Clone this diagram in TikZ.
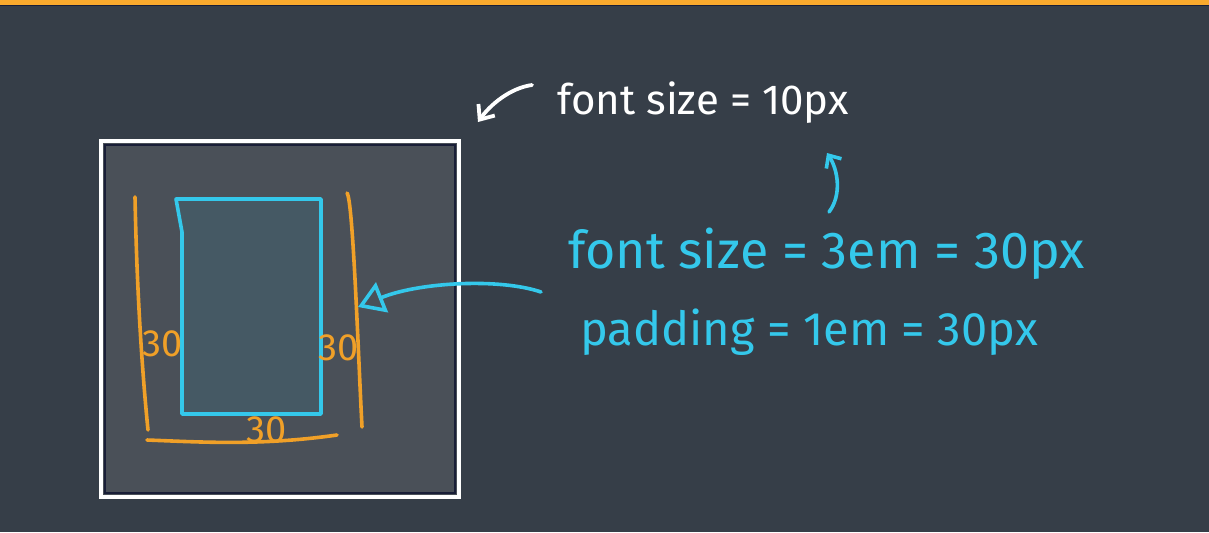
\documentclass[tikz,border=0pt]{standalone}
\usepackage{fontspec}
\setmainfont{Fira Sans}
\usetikzlibrary{arrows.meta}
\definecolor{bgslate}{RGB}{54,62,72}
\definecolor{boxgray}{RGB}{74,80,88}
\definecolor{innerfill}{RGB}{69,89,100}
\definecolor{penorange}{RGB}{240,160,40}
\definecolor{pencyan}{RGB}{52,200,235}
\definecolor{barorange}{RGB}{250,170,45}
\definecolor{edgenavy}{RGB}{25,30,55}
\begin{document}
\begin{tikzpicture}[x=0.5pt, y=-0.5pt,
  orangepen/.style={draw=penorange, line width=1.8pt, line cap=round, line join=round},
  cyanpen/.style={draw=pencyan, line width=1.8pt, line cap=round, line join=round},
  whitepen/.style={draw=white, line width=1.9pt, line cap=round, line join=round},
  outerbox/.style={draw=white, line width=1.6pt, fill=boxgray, minimum width=179pt, minimum height=178pt, inner sep=0pt},
  numlbl/.style={text=penorange, font=\fontsize{19}{19}\selectfont, inner sep=0pt},
  notewhite/.style={text=white, font=\fontsize{21}{21}\selectfont, inner sep=0pt, anchor=base west},
  notecyan/.style={text=pencyan, font=\fontsize{26}{26}\selectfont, inner sep=0pt, anchor=base west}
]

\fill[bgslate] (0,0) rectangle (1209,532);
\useasboundingbox (0,0) rectangle (1209,532);
\fill[barorange] (0,0) rectangle (1209,5);
\draw[edgenavy, line width=0.5pt] (0,5.5) -- (1209,5.5);

\node[outerbox] (frame) at (280,319) {};
\draw[edgenavy, line width=0.6pt] (105,145) rectangle (455,493);
\filldraw[cyanpen, fill=innerfill] (176,199) -- (321,199) -- (321,414) -- (182,414) -- (182,232) -- cycle;

\draw[orangepen] (135,197) .. controls (137,300) and (143,380) .. (148,430);
\draw[orangepen] (347,193) .. controls (353,200) and (358,350) .. (362,427);
\draw[orangepen] (147,440) .. controls (200,442) and (260,446) .. (337,435);
\node[numlbl] (padleft) at (163,344) {30};
\node[numlbl] (padright) at (339,348) {30};
\node[numlbl] (padbottom) at (267,430) {30};

\node[notewhite] (fsroot) at (557,114) {font size = 10px};
\node[notecyan] (fsem) at (568,268) {font size = 3em = 30px};
\node[notecyan, font=\fontsize{23.5}{23.5}\selectfont] (padem) at (580,345) {padding = 1em = 30px};

\coordinate (rootstart) at (532,85);
\coordinate (roottip) at (478,122);
\coordinate (emstart) at (829,212);
\coordinate (emtip) at (827,153);
\coordinate (padstart) at (541,292);
\coordinate (padtip) at (358,307);
\draw[whitepen, -{Straight Barb[length=6pt, width=10pt]}] (rootstart) .. controls (510,88) and (490,105) .. (roottip);
\draw[cyanpen, -{Straight Barb[length=5pt, width=9pt]}] (emstart) .. controls (842,195) and (838,170) .. (emtip);
\draw[cyanpen, -{Triangle[open, length=13pt, width=16pt]}] (padstart) .. controls (500,278) and (420,282) .. (padtip);

\end{tikzpicture}
\end{document}
